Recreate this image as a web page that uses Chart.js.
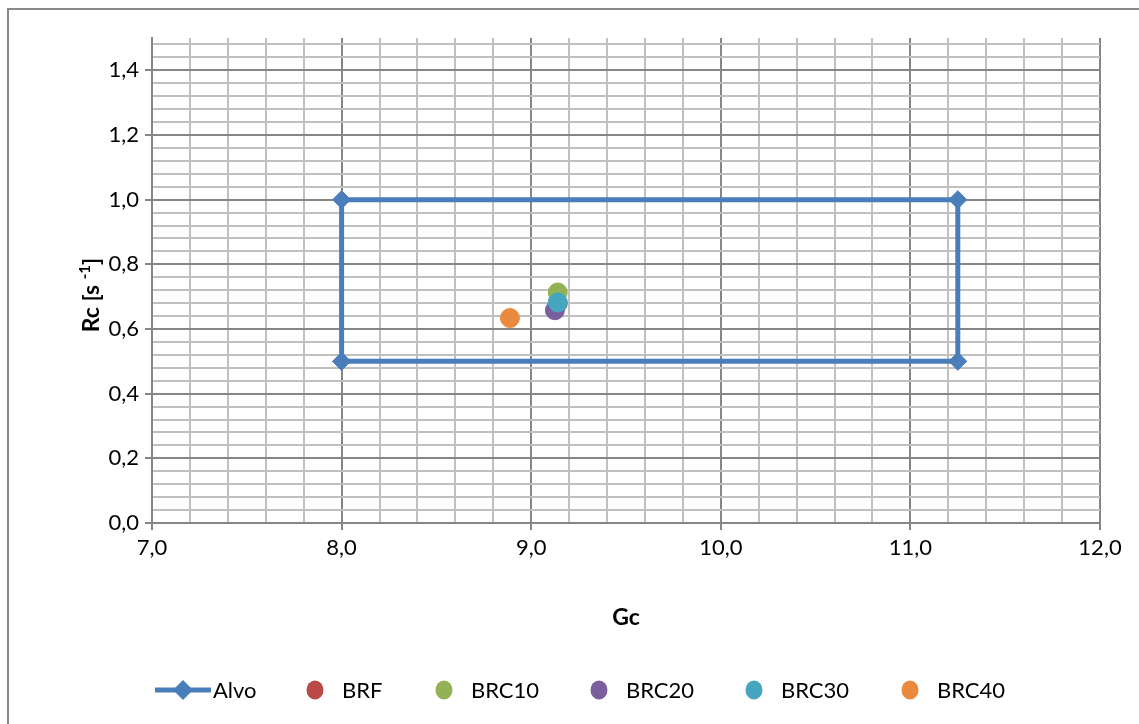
<!DOCTYPE html>
<html>
<head>
<meta charset="utf-8">
<title>Rc x Gc</title>
<script src="https://cdn.jsdelivr.net/npm/chart.js@4/dist/chart.umd.min.js"></script>
<style>
  html, body { margin: 0; padding: 0; background: #ffffff; }
  canvas { display: block; }
</style>
</head>
<body>
<canvas id="chart" width="1139" height="724"></canvas>
<script>
// Target window (Alvo) drawn as a closed rectangle
const alvoGc = [8.0, 8.0, 11.25, 11.25, 8.0];
const alvoRc = [0.5, 1.0, 1.0, 0.5, 0.5];

// Measured samples
const seriesNames = ['BRF', 'BRC10', 'BRC20', 'BRC30', 'BRC40'];
const seriesGc = [9.14, 9.14, 9.125, 9.14, 8.888];
const seriesRc = [0.68, 0.713, 0.658, 0.682, 0.634];
const seriesColors = ['#B94A47', '#93B155', '#7A5E9E', '#46A6C0', '#E98A3E'];

// Labelled (major) tick values
const xMajorTicks = [7, 8, 9, 10, 11, 12];
const yMajorTicks = [0, 0.2, 0.4, 0.6, 0.8, 1.0, 1.2, 1.4];

const alvoColor = '#4A7EBB';
const majorGrid = '#868686';
const minorGrid = '#C0C0C0';
const fontFamily = 'Lato, "Open Sans", sans-serif';

const isMajor = (v, list) => list.some(m => Math.abs(m - v) < 1e-6);
const fmt = v => v.toFixed(1).replace('.', ',');

const datasets = [{
  label: 'Alvo',
  data: alvoGc.map((g, i) => ({ x: g, y: alvoRc[i] })),
  showLine: true,
  borderColor: alvoColor,
  backgroundColor: alvoColor,
  borderWidth: 5,
  pointStyle: 'rectRot',
  pointRadius: 9,
  pointBorderWidth: 1,
  pointBackgroundColor: alvoColor,
  pointBorderColor: alvoColor,
  order: 10
}];
seriesNames.forEach((name, i) => {
  datasets.push({
    label: name,
    data: [{ x: seriesGc[i], y: seriesRc[i] }],
    showLine: false,
    pointStyle: 'circle',
    pointRadius: 9.5,
    pointBorderWidth: 1,
    backgroundColor: seriesColors[i],
    borderColor: seriesColors[i],
    order: 9 - i
  });
});

// Frame, axis titles and legend
const decorations = {
  id: 'decorations',
  afterDraw(chart) {
    const ctx = chart.ctx;
    ctx.save();

    // outer frame (left and top edges)
    ctx.strokeStyle = '#898989';
    ctx.lineWidth = 2;
    ctx.beginPath();
    ctx.moveTo(8, 724);
    ctx.lineTo(8, 9);
    ctx.lineTo(1139, 9);
    ctx.stroke();

    // x title
    ctx.fillStyle = '#000';
    ctx.textBaseline = 'middle';
    ctx.textAlign = 'center';
    ctx.font = 'bold 23px ' + fontFamily;
    const area = chart.chartArea;
    ctx.fillText('Gc', (area.left + area.right) / 2, 618);

    // y title with superscript
    ctx.save();
    ctx.translate(92, 295);
    ctx.rotate(-Math.PI / 2);
    ctx.textAlign = 'left';
    const mainFont = 'bold 23px ' + fontFamily;
    const supFont = 'bold 15px ' + fontFamily;
    ctx.font = mainFont;
    const p1 = 'Rc [s ', p3 = ']';
    const w1 = ctx.measureText(p1).width, w3 = ctx.measureText(p3).width;
    ctx.font = supFont;
    const p2 = '-1';
    const w2 = ctx.measureText(p2).width;
    let x = -(w1 + w2 + w3) / 2;
    ctx.font = mainFont;
    ctx.fillText(p1, x, 0);
    x += w1;
    ctx.font = supFont;
    ctx.fillText(p2, x, -7);
    x += w2;
    ctx.font = mainFont;
    ctx.fillText(p3, x, 0);
    ctx.restore();

    // legend
    const ly = 690;
    ctx.font = '22px ' + fontFamily;
    ctx.textAlign = 'left';
    ctx.textBaseline = 'middle';
    // Alvo: line with diamond
    ctx.strokeStyle = alvoColor;
    ctx.lineWidth = 5;
    ctx.beginPath();
    ctx.moveTo(155, ly);
    ctx.lineTo(211, ly);
    ctx.stroke();
    ctx.fillStyle = alvoColor;
    ctx.beginPath();
    ctx.moveTo(183 - 10, ly); ctx.lineTo(183, ly - 10); ctx.lineTo(183 + 10, ly); ctx.lineTo(183, ly + 10);
    ctx.closePath();
    ctx.fill();
    ctx.fillStyle = '#000';
    ctx.fillText(datasets[0].label, 213, ly + 1);
    const dotCenters = [315, 444, 599, 754, 910];
    seriesNames.forEach((name, i) => {
      const ds = chart.data.datasets[i + 1];
      ctx.fillStyle = ds.backgroundColor;
      ctx.beginPath();
      ctx.ellipse(dotCenters[i], ly, 8.5, 9.5, 0, 0, Math.PI * 2);
      ctx.fill();
      ctx.fillStyle = '#000';
      ctx.fillText(ds.label, dotCenters[i] + 27, ly + 1);
    });

    ctx.restore();
  }
};

new Chart(document.getElementById('chart'), {
  type: 'scatter',
  data: { datasets },
  plugins: [decorations],
  options: {
    responsive: false,
    devicePixelRatio: 1,
    animation: false,
    layout: { padding: { top: 38, right: 39, left: 0, bottom: 0 } },
    plugins: {
      legend: { display: false },
      tooltip: { enabled: false }
    },
    scales: {
      x: {
        type: 'linear',
        min: 7, max: 12,
        afterFit: s => { s.height = 724 - 523; },
        border: { display: true, color: majorGrid, width: 2 },
        grid: {
          color: c => isMajor(c.tick.value, xMajorTicks) ? majorGrid : minorGrid,
          lineWidth: 2,
          tickLength: 7,
          tickColor: c => isMajor(c.tick.value, xMajorTicks) ? majorGrid : 'rgba(0,0,0,0)',
          tickWidth: 2
        },
        ticks: {
          stepSize: 0.2,
          autoSkip: false,
          maxRotation: 0,
          includeBounds: false,
          padding: 5,
          color: '#000',
          font: { family: fontFamily, size: 22 },
          callback: v => isMajor(v, xMajorTicks) ? fmt(v) : ''
        }
      },
      y: {
        type: 'linear',
        min: 0, max: 1.5,
        afterFit: s => { s.width = 152; },
        border: { display: true, color: majorGrid, width: 2 },
        grid: {
          color: c => isMajor(c.tick.value, yMajorTicks) ? majorGrid : minorGrid,
          lineWidth: 2,
          tickLength: 7,
          tickColor: c => isMajor(c.tick.value, yMajorTicks) ? majorGrid : 'rgba(0,0,0,0)',
          tickWidth: 2
        },
        ticks: {
          stepSize: 0.04,
          autoSkip: false,
          includeBounds: false,
          padding: 6,
          color: '#000',
          font: { family: fontFamily, size: 22 },
          callback: v => isMajor(v, yMajorTicks) ? fmt(v) : ''
        }
      }
    }
  }
});
</script>
</body>
</html>
